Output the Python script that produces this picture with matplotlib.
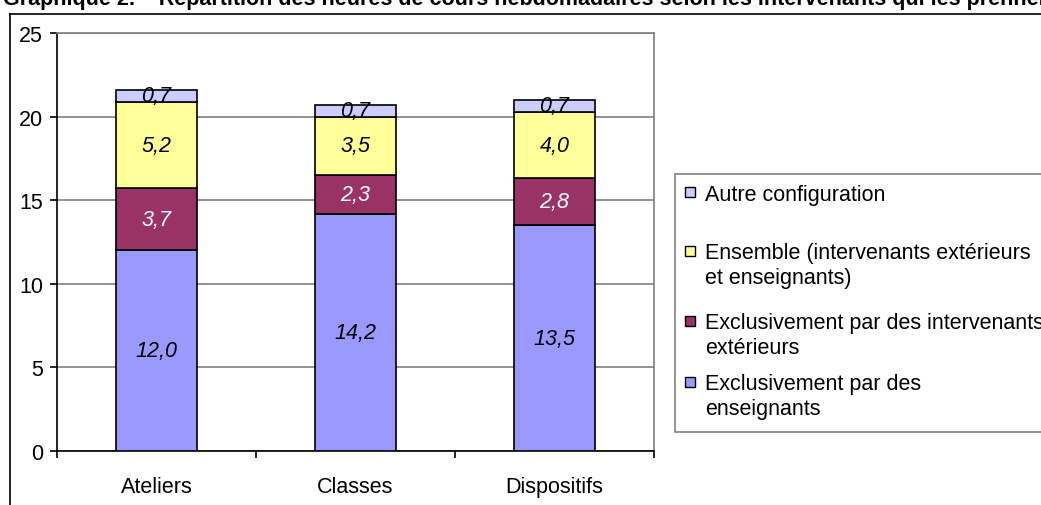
import matplotlib
matplotlib.use("Agg")
import matplotlib.pyplot as plt
from matplotlib.patches import Rectangle
from matplotlib.lines import Line2D
import numpy as np

plt.rcParams['font.family'] = ['Liberation Sans', 'DejaVu Sans']

# Data: weekly teaching hours by who delivers them
categories = ["Ateliers", "Classes", "Dispositifs"]
series_names = [
    "Exclusivement par des\nenseignants",
    "Exclusivement par des intervenants\nextérieurs",
    "Ensemble (intervenants extérieurs\net enseignants)",
    "Autre configuration",
]
enseignants = [12.0, 14.2, 13.5]
intervenants = [3.7, 2.3, 2.8]
ensemble = [5.2, 3.5, 4.0]
autre = [0.7, 0.7, 0.7]
series_values = [enseignants, intervenants, ensemble, autre]
series_colors = ["#9999FF", "#993366", "#FFFF99", "#CCCCFF"]
label_colors = ["black", "white", "black", "black"]
yticks = [0, 5, 10, 15, 20, 25]

FS = 15.5
W, H = 1041, 506
fig = plt.figure(figsize=(W / 100, H / 100), dpi=100)


def fx(px):
    return px / W


def fy(py):
    return 1 - py / H


# Title (runs past the frame edges)
fig.text(fx(3), fy(5), "Graphique 2. – Répartition des heures de cours hebdomadaires "
         "selon les intervenants qui les prennent en charge",
         fontsize=15.5, fontweight="bold", ha="left", va="baseline")

# Outer chart frame
fig.add_artist(Line2D([fx(10), fx(10)], [fy(15), fy(H + 5)], color="black", lw=1.2))
fig.add_artist(Line2D([fx(10), fx(W + 5)], [fy(15), fy(15)], color="black", lw=1.2))

ax = fig.add_axes([fx(57), fy(452), fx(654) - fx(57), fy(34) - fy(452)])
x = np.arange(len(categories))
bottom = np.zeros(len(categories))
for vals, col, tcol in zip(series_values, series_colors, label_colors):
    vals = np.array(vals)
    ax.bar(x, vals, width=0.405, bottom=bottom, color=col, edgecolor="black",
           linewidth=1.2, zorder=3)
    for xi, b, v in zip(x, bottom, vals):
        ax.text(xi, b + v / 2, f"{v:.1f}".replace(".", ","), ha="center",
                va="center", fontsize=FS, style="italic", color=tcol, zorder=4)
    bottom = bottom + vals

ax.set_xlim(-0.5, 2.5)
ax.set_ylim(0, 25)
ax.set_yticks(yticks)
ax.set_yticklabels([str(t) for t in yticks], fontsize=FS)
ax.yaxis.grid(True, color="#808080", lw=1.2, zorder=0)
ax.set_axisbelow(True)

# category labels centred, tick marks on category boundaries
ax.set_xticks(x)
ax.set_xticklabels(categories, fontsize=FS)
ax.tick_params(axis="x", length=0, pad=18)
ax.set_xticks([-0.5, 0.5, 1.5, 2.5], minor=True)
ax.tick_params(axis="x", which="minor", length=5, width=1.2, direction="out")
ax.tick_params(axis="y", length=5, width=1.2, direction="out", pad=5)

for side in ["left", "bottom"]:
    ax.spines[side].set_color("black")
    ax.spines[side].set_linewidth(1.2)
for side in ["top", "right"]:
    ax.spines[side].set_color("#808080")
    ax.spines[side].set_linewidth(1.2)

# Legend box
fig.add_artist(Rectangle((fx(675), fy(433)), fx(W + 20) - fx(675), fy(175) - fy(433),
                         facecolor="white", edgecolor="#808080", lw=1.2))
legend_rows = [193, 252, 322, 383]
legend_order = [3, 2, 1, 0]
line_gap = 24.5
for row_y, idx in zip(legend_rows, legend_order):
    fig.add_artist(Rectangle((fx(685), fy(row_y + 5)), fx(10), fy(row_y - 5) - fy(row_y + 5),
                             facecolor=series_colors[idx], edgecolor="black", lw=1.0))
    for k, line in enumerate(series_names[idx].split("\n")):
        fig.text(fx(705), fy(row_y + k * line_gap + 7.5), line, fontsize=FS,
                 ha="left", va="baseline")

fig.savefig("out.png", dpi=100)
